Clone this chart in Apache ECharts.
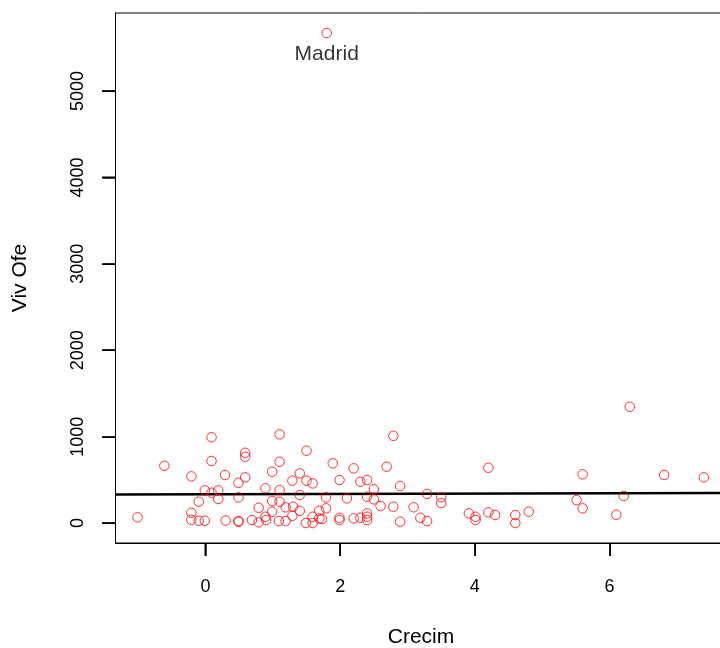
<!DOCTYPE html>
<html>
<head>
<meta charset="utf-8">
<script src="https://cdn.jsdelivr.net/npm/echarts@6/dist/echarts.min.js"></script>
<style>html,body{margin:0;padding:0;background:#fff}#c{width:720px;height:648px}</style>
</head>
<body>
<div id="c"></div>
<script>
// Data
const crecim = [-1.01,-0.61,-0.21,-0.21,-0.21,-0.10,-0.10,-0.01,-0.01,0.09,0.09,0.09,0.19,0.19,0.29,0.30,0.49,0.49,0.49,0.49,0.59,0.59,0.59,0.69,0.79,0.79,0.89,0.89,0.90,0.99,0.99,0.99,1.10,1.10,1.10,1.10,1.09,1.19,1.19,1.29,1.30,1.29,1.40,1.40,1.40,1.50,1.50,1.49,1.59,1.59,1.59,1.69,1.69,1.73,1.79,1.79,1.89,1.99,1.99,1.99,2.10,2.20,2.20,2.30,2.30,2.40,2.40,2.40,2.40,2.40,2.50,2.50,2.60,2.69,2.79,2.79,2.89,2.89,3.09,3.19,3.29,3.29,3.50,3.50,3.91,4.01,4.01,4.20,4.20,4.30,4.60,4.60,4.80,5.51,5.60,5.60,6.10,6.21,6.30,6.81,7.40];
const vivOfe = [66,663,540,119,38,247,27,378,27,992,718,351,378,278,556,29,466,297,23,15,813,767,529,35,177,8,402,73,35,594,255,131,1027,709,382,247,23,182,23,490,189,84,575,324,142,837,490,0,459,73,0,142,54,46,297,170,691,498,61,35,286,633,54,478,61,498,304,112,73,35,390,274,197,652,1010,189,428,15,182,61,336,23,297,231,112,73,35,640,124,93,93,0,131,266,564,170,96,313,1346,556,529];
const labelledName = ["Madrid"];
const labelledX = [1.80];
const labelledY = [5671];
const regCoef = [333, 1.8]; // intercept, slope
const xTicks = [0, 2, 4, 6];
const yTicks = [0, 1000, 2000, 3000, 4000, 5000];

const xMin = -1.336, xMax = 7.736, yMin = -231, yMax = 5903;
const pts = crecim.map((x, i) => [x, vivOfe[i]]);
const lab = labelledX.map((x, i) => ({ value: [x, labelledY[i]], name: labelledName[i] }));
const reg = [[xMin, regCoef[0] + regCoef[1] * xMin], [xMax, regCoef[0] + regCoef[1] * xMax]];
const TICK = 13;

const font = 'Liberation Sans, Arial, Helvetica, sans-serif';
const chart = echarts.init(document.getElementById('c'), null, { renderer: 'canvas' });
chart.setOption({
  animation: false,
  backgroundColor: '#ffffff',
  grid: { left: 115.5, top: 13, width: 611, height: 530, show: true, borderColor: '#000', borderWidth: 1, backgroundColor: 'transparent', containLabel: false, outerBoundsMode: 'none' },
  xAxis: {
    type: 'value', min: xMin, max: xMax,
    name: 'Crecim', nameLocation: 'middle', nameGap: 84,
    nameTextStyle: { fontFamily: font, fontSize: 21, color: '#000' },
    axisLine: { show: true, onZero: false, lineStyle: { color: '#000', width: 1 } },
    axisTick: { show: true, inside: false, length: TICK, customValues: xTicks, lineStyle: { color: '#000', width: 1.5 } },
    axisLabel: { show: true, margin: 35, fontFamily: font, fontSize: 18, color: '#000', customValues: xTicks, formatter: v => String(v) },
    splitLine: { show: false }
  },
  yAxis: {
    type: 'value', min: yMin, max: yMax,
    name: 'Viv Ofe', nameLocation: 'middle', nameGap: 85, nameRotate: 90,
    nameTextStyle: { fontFamily: font, fontSize: 21, color: '#000' },
    axisLine: { show: true, onZero: false, lineStyle: { color: '#000', width: 1 } },
    axisTick: { show: true, inside: false, length: TICK, customValues: yTicks, lineStyle: { color: '#000', width: 1.5 } },
    axisLabel: { show: true, rotate: 90, margin: 28, fontFamily: font, fontSize: 18, color: '#000', customValues: yTicks, formatter: v => String(v) },
    splitLine: { show: false }
  },
  series: [
    {
      type: 'scatter', data: pts, symbol: 'circle', symbolSize: 9.5,
      itemStyle: { color: 'transparent', borderColor: '#ff0000', borderWidth: 1 },
      silent: true
    },
    {
      type: 'scatter', data: lab, symbol: 'circle', symbolSize: 9.5,
      itemStyle: { color: 'transparent', borderColor: '#ff0000', borderWidth: 1 },
      label: { show: true, position: 'bottom', distance: 5, formatter: p => p.name, fontFamily: font, fontSize: 21, color: '#000' },
      silent: true
    },
    {
      type: 'line', data: reg, symbol: 'none', showSymbol: false,
      lineStyle: { color: '#000', width: 2.5 }, silent: true, z: 1
    }
  ]
});

// Tick marks as thin filled rects, placed through the library's coordinate conversion
const tickEls = [];
xTicks.forEach(v => {
  const p = chart.convertToPixel({ gridIndex: 0 }, [v, yMin]);
  tickEls.push({ type: 'rect', silent: true, z: 100, shape: { x: Math.round(p[0]) - 0.5, y: Math.round(p[1]), width: 1.5, height: TICK }, style: { fill: '#000' } });
});
yTicks.forEach(v => {
  const p = chart.convertToPixel({ gridIndex: 0 }, [xMin, v]);
  tickEls.push({ type: 'rect', silent: true, z: 100, shape: { x: Math.round(p[0]) - TICK, y: Math.round(p[1]) - 0.5, width: TICK, height: 1.5 }, style: { fill: '#000' } });
});
chart.setOption({ graphic: { elements: tickEls } });
</script>
</body>
</html>
